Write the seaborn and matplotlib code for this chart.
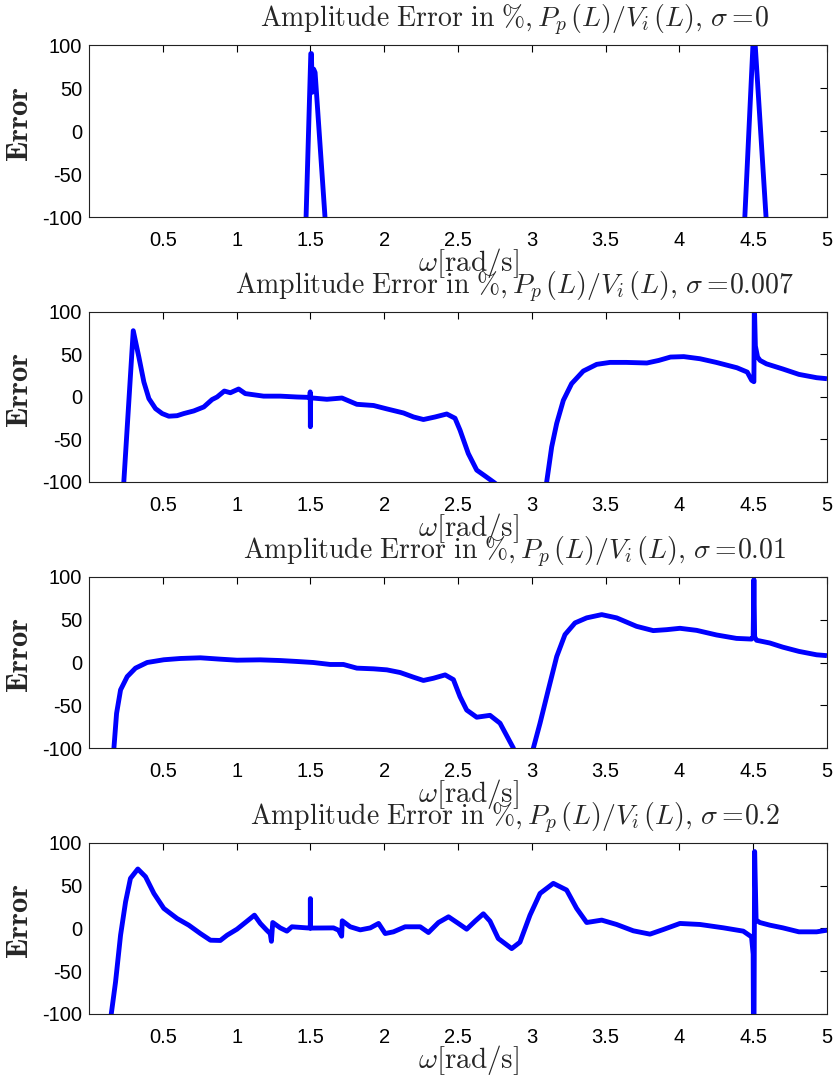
import matplotlib
matplotlib.use('Agg')
import matplotlib.pyplot as plt
import matplotlib.transforms as mtransforms
import seaborn as sns

# ---------------- data ----------------
sigmas = ['0', '0.007', '0.01', '0.2']
x_ticks = [0.5, 1, 1.5, 2, 2.5, 3, 3.5, 4, 4.5, 5]
x_tick_labels = ['0.5', '1', '1.5', '2', '2.5', '3', '3.5', '4', '4.5', '5']
y_ticks = [-100, -50, 0, 50, 100]
y_tick_labels = ['-100', '-50', '0', '50', '100']

omega_s0 = [0.0, 1.454, 1.503, 1.507, 1.513, 1.522, 1.532, 1.639,
            4.416, 4.500, 4.512, 4.624, 5.0]
err_s0 = [-200, -200, 90, 90, 45, 72, 68, -200,
          -200, 105, 105, -200, -200]

omega_s1 = [0.21, 0.236, 0.300, 0.338, 0.372, 0.406, 0.451, 0.496, 0.541, 0.597,
            0.642, 0.710, 0.778, 0.834, 0.868, 0.917, 0.958, 1.014, 1.059, 1.183,
            1.296, 1.409, 1.497, 1.499, 1.500, 1.502, 1.612, 1.714, 1.815, 1.928,
            2.018, 2.131, 2.199, 2.266, 2.345, 2.424, 2.480, 2.514, 2.570, 2.627,
            2.684, 2.740, 2.800, 2.900, 3.000, 3.080, 3.101, 3.135, 3.169, 3.214,
            3.270, 3.349, 3.440, 3.530, 3.640, 3.780, 3.860, 3.940, 4.030, 4.140,
            4.250, 4.390, 4.460, 4.490, 4.505, 4.508, 4.515, 4.530, 4.547, 4.590,
            4.700, 4.810, 4.930, 5.0]
err_s1 = [-140, -100, 78, 47, 17.6, -1.9, -13.7, -19.5, -22.6, -22,
          -19.5, -16.4, -11.7, -3, 0, 7, 5, 9.4, 4, 1,
          1, 0, -0.5, 6, -35, -1, -2.7, -1.2, -8.6, -10,
          -14, -18.8, -23.5, -26.5, -23.5, -20, -25, -39, -66.5, -86,
          -93, -100, -108, -125, -140, -125, -100, -58.7, -31, -3.9,
          15.7, 30.5, 38.4, 40.7, 40.7, 40, 43, 47, 47.5, 45,
          40.7, 34.4, 29.3, 19.6, 18, 110, 60, 47, 43, 39,
          33, 26.6, 22.7, 21.5]

omega_s2 = [0.155, 0.169, 0.187, 0.214, 0.259, 0.315, 0.394, 0.507, 0.620, 0.755,
            0.890, 1.003, 1.160, 1.296, 1.409, 1.520, 1.634, 1.724, 1.815, 1.928,
            2.018, 2.108, 2.199, 2.266, 2.334, 2.413, 2.469, 2.514, 2.559, 2.627,
            2.717, 2.785, 2.875, 2.930, 2.970, 3.011, 3.056, 3.112, 3.169, 3.225,
            3.293, 3.372, 3.474, 3.575, 3.710, 3.823, 3.914, 4.004, 4.117, 4.252,
            4.387, 4.489, 4.500, 4.505, 4.510, 4.523, 4.613, 4.700, 4.810, 4.930,
            5.0]
err_s2 = [-131, -100, -59.5, -32, -16.5, -6.6, 0, 3.2, 4.7, 5.5,
          3.9, 2.7, 3.1, 2.3, 1.2, 0, -2.3, -2.3, -6.6, -7.4,
          -8.6, -11.7, -17.2, -21, -18.4, -14.5, -20, -40, -55.6, -64,
          -61.8, -71, -100, -130, -130, -100, -71, -32, 7, 32.6,
          46.3, 52.2, 56, 52.2, 42.3, 37.3, 38.4, 40, 37.6, 32.2,
          28.2, 27.4, 30, 97, 30, 26, 22.8, 18, 13, 9,
          8]

omega_s3 = [0.120, 0.151, 0.180, 0.214, 0.248, 0.281, 0.331, 0.383, 0.440, 0.507,
            0.597, 0.676, 0.755, 0.823, 0.890, 0.936, 1.003, 1.071, 1.121, 1.161,
            1.202, 1.228, 1.236, 1.245, 1.296, 1.341, 1.375, 1.477, 1.4995, 1.500,
            1.5005, 1.657, 1.691, 1.712, 1.716, 1.770, 1.838, 1.906, 1.962, 2.007,
            2.063, 2.142, 2.244, 2.300, 2.368, 2.436, 2.503, 2.559, 2.616, 2.672,
            2.717, 2.773, 2.864, 2.920, 2.988, 3.056, 3.146, 3.236, 3.304, 3.372,
            3.474, 3.575, 3.688, 3.801, 3.891, 4.004, 4.140, 4.298, 4.433, 4.489,
            4.500, 4.504, 4.510, 4.520, 4.545, 4.613, 4.700, 4.810, 4.930, 5.0]
err_s3 = [-140, -100, -62.6, -7.8, 31.2, 58.6, 69.6, 60.6, 41, 23.5,
          11.7, 3.9, -5.9, -13.7, -14, -7.8, -0.8, 8.6, 15.6, 5.9,
          -1.6, -6, -15, 7, 0.7, -3.1, 2, 0.7, 0.5, 35,
          0.5, 0.7, -2, -9, 9, 2, -1.6, 0.7, 5.9, -5.9,
          -3.9, 2, 2, -4.7, 7, 13.7, 5.9, -0.8, 8.6, 17.2,
          8.6, -11.7, -23.5, -16, 15.6, 41, 52.8, 45, 23.5, 7,
          9.8, 4.7, -2.7, -6.6, -1.2, 5.9, 4.7, 0.8, -3.1, -9.8,
          -30, -200, 90, 10, 7, 3.9, 0.8, -3.9, -3.9, -2]

series = [(omega_s0, err_s0), (omega_s1, err_s1), (omega_s2, err_s2), (omega_s3, err_s3)]

# ---------------- style ----------------
sns.set_style('white')
plt.rcParams['font.family'] = ['Liberation Sans', 'DejaVu Sans']
plt.rcParams['mathtext.fontset'] = 'cm'
plt.rcParams['axes.unicode_minus'] = False

fig = plt.figure(figsize=(8.37, 10.78), dpi=100)

rects = [
    (0.1063, 0.79870, 0.8817, 0.15955),
    (0.1063, 0.55288, 0.8817, 0.15770),
    (0.1063, 0.30612, 0.8817, 0.15863),
    (0.1063, 0.05937, 0.8817, 0.15863),
]

for rect, (xs, ys), sig in zip(rects, series, sigmas):
    ax = fig.add_axes(rect)
    sns.lineplot(x=xs, y=ys, ax=ax, color='#0000ff', linewidth=3.5,
                 estimator=None, sort=False, solid_joinstyle='round',
                 solid_capstyle='butt')
    ax.set_xlim(0, 5)
    ax.set_ylim(-100, 100)
    ax.set_xticks(x_ticks)
    ax.set_xticklabels(x_tick_labels)
    ax.set_yticks(y_ticks)
    ax.set_yticklabels(y_tick_labels)
    ax.tick_params(direction='in', length=5, width=0.8, top=True, right=True,
                   labelsize=14.5, colors='black')
    ax.tick_params(axis='x', pad=10)
    ax.tick_params(axis='y', pad=5)
    for s in ax.spines.values():
        s.set_visible(True)
        s.set_color('#222222')
        s.set_linewidth(0.8)

    title = (r'$\mathrm{Amplitude\ Error\ in\ \%,}P_p\,(L)/V_i\,(L),\,\sigma=\!\mathrm{'
             + sig + r'}$')
    trans = mtransforms.offset_copy(ax.transAxes, fig=fig, x=0, y=13, units='points')
    ax.text(0.577, 1.0, title, transform=trans, ha='center', va='baseline',
            fontsize=20)

    ax.set_xlabel(r'$\omega[\mathrm{rad/s}]$', fontsize=21)
    ax.xaxis.label.set_va('baseline')
    ax.xaxis.set_label_coords(0.515, -0.316)

    ax.set_ylabel(r'$\mathbf{Error}$', fontsize=22)
    ax.yaxis.label.set_va('center')
    ax.yaxis.label.set_rotation_mode('anchor')
    ax.yaxis.set_label_coords(-0.093, 0.54)

fig.savefig('out.png', dpi=100)
